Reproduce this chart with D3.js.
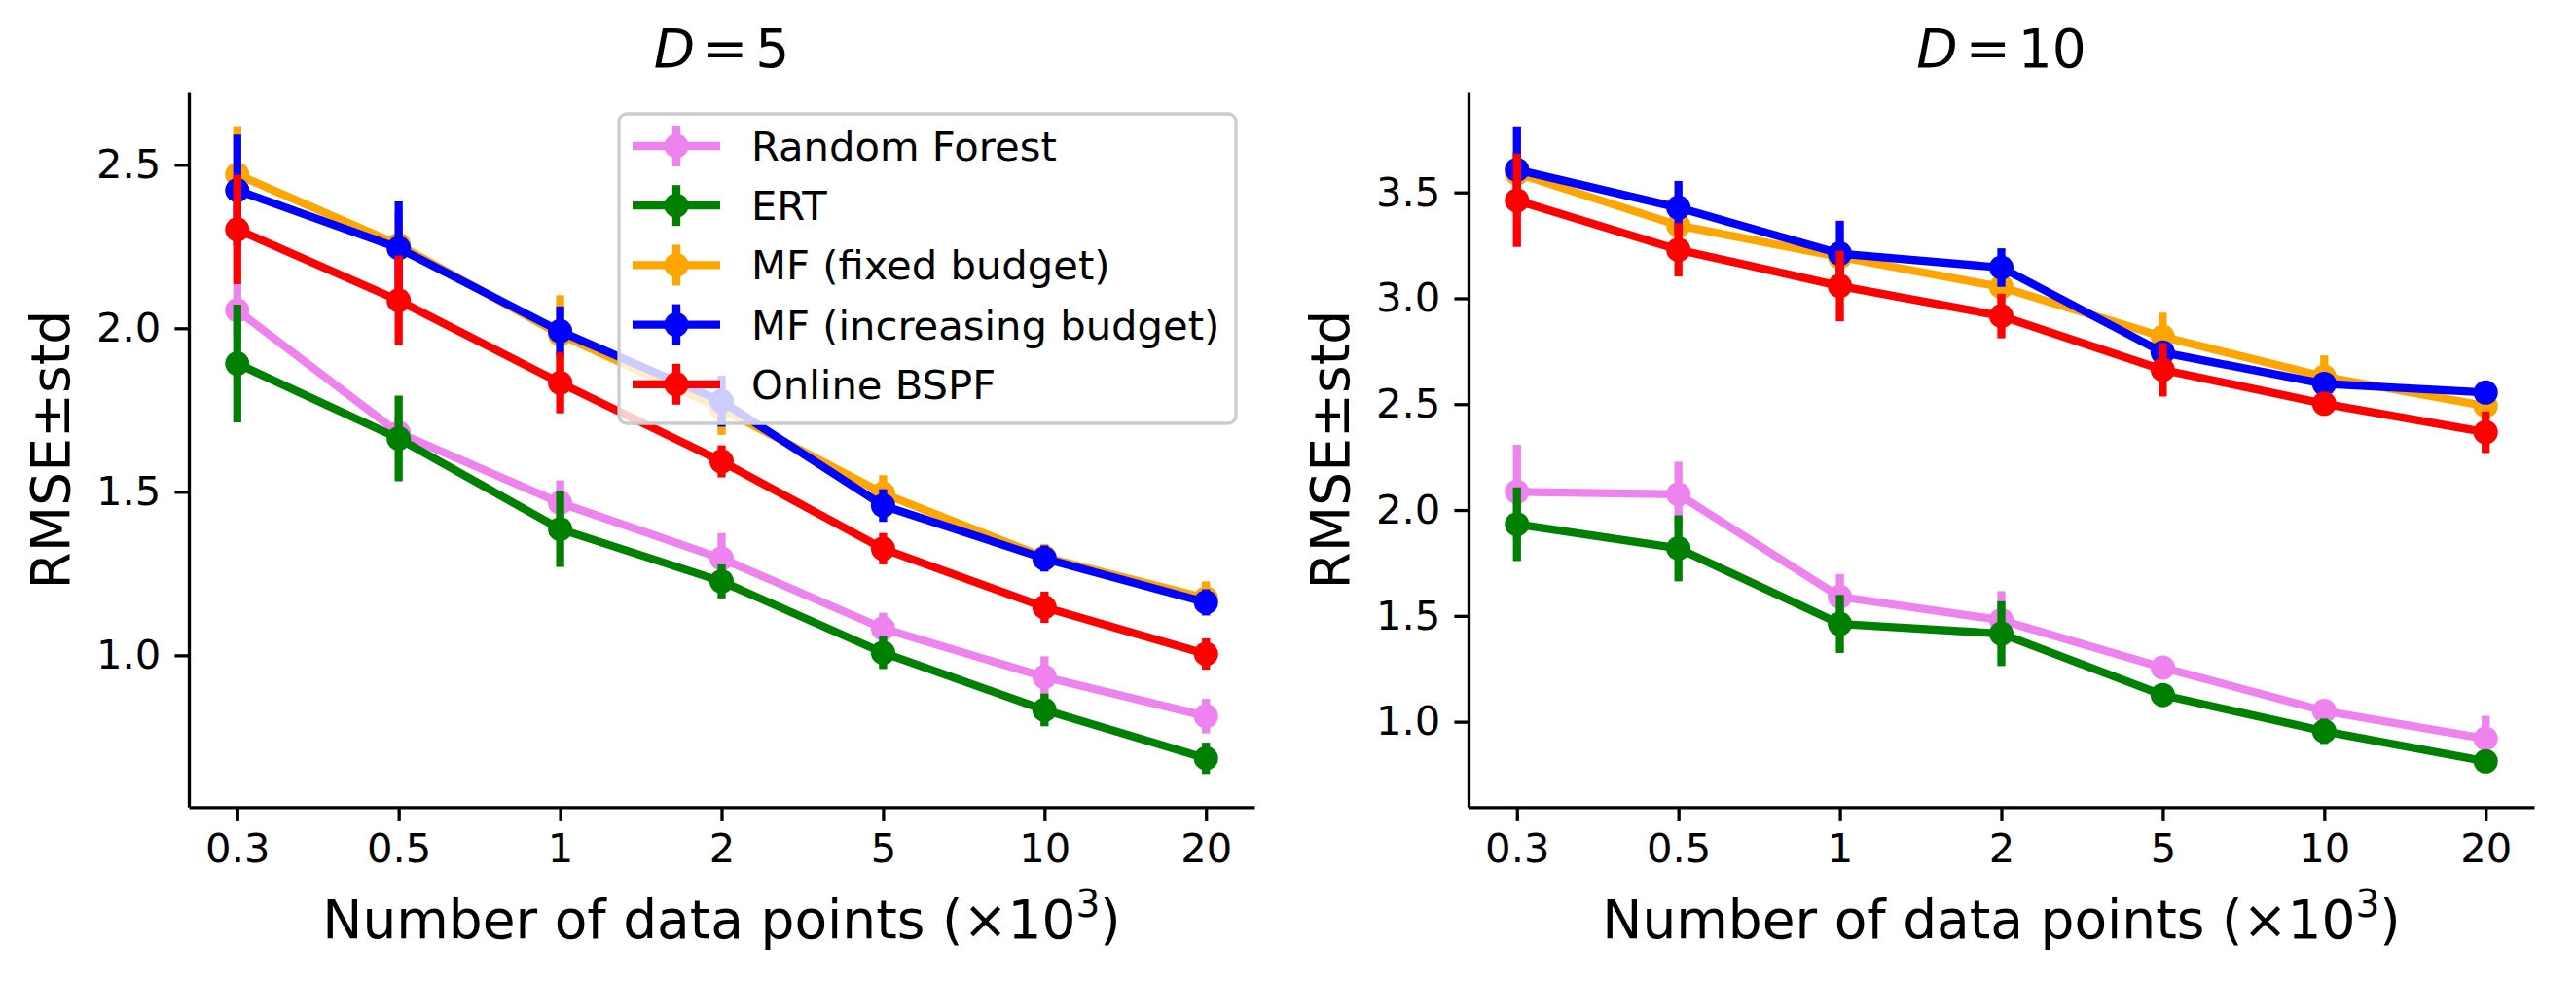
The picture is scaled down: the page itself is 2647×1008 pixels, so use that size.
<!DOCTYPE html>
<html>
<head>
<meta charset="utf-8">
<script src="https://cdn.jsdelivr.net/npm/d3@7"></script>
<style>
  body { margin: 0; background: #fff; }
  svg text { font-family: "DejaVu Sans", sans-serif; fill: #000; }
</style>
</head>
<body>
<script>
// x categories (thousands of data points)
const sizes = ['0.3', '0.5', '1', '2', '5', '10', '20'];
const methods = ['Random Forest', 'ERT', 'MF (fixed budget)', 'MF (increasing budget)', 'Online BSPF'];
const colors = ['violet', 'green', 'orange', 'blue', 'red'];

// D = 5
const rfD5 = [2.055, 1.680, 1.466, 1.296, 1.082, 0.934, 0.814];
const rfD5Std = [0.08, 0.05, 0.069, 0.078, 0.048, 0.063, 0.053];
const ertD5 = [1.892, 1.663, 1.386, 1.226, 1.008, 0.833, 0.685];
const ertD5Std = [0.18, 0.131, 0.116, 0.052, 0.05, 0.05, 0.048];
const mfFixedD5 = [2.470, 2.255, 1.981, 1.754, 1.495, 1.300, 1.174];
const mfFixedD5Std = [0.148, 0.1, 0.12, 0.08, 0.056, 0.04, 0.052];
const mfIncD5 = [2.422, 2.245, 1.991, 1.777, 1.458, 1.296, 1.162];
const mfIncD5Std = [0.17, 0.143, 0.076, 0.078, 0.05, 0.04, 0.04];
const bspfD5 = [2.302, 2.085, 1.833, 1.593, 1.326, 1.147, 1.004];
const bspfD5Std = [0.167, 0.137, 0.093, 0.049, 0.048, 0.048, 0.048];

// D = 10
const rfD10 = [2.086, 2.074, 1.590, 1.480, 1.256, 1.051, 0.920];
const rfD10Std = [0.222, 0.154, 0.108, 0.137, 0.04, 0.04, 0.108];
const ertD10 = [1.933, 1.819, 1.462, 1.416, 1.126, 0.955, 0.813];
const ertD10Std = [0.174, 0.156, 0.137, 0.153, 0.03, 0.06, 0.03];
const mfFixedD10 = [3.59, 3.344, 3.195, 3.053, 2.818, 2.630, 2.491];
const mfFixedD10Std = [0.1, 0.08, 0.08, 0.07, 0.114, 0.1, 0.06];
const mfIncD10 = [3.607, 3.428, 3.211, 3.145, 2.744, 2.596, 2.555];
const mfIncD10Std = [0.205, 0.126, 0.155, 0.091, 0.05, 0.04, 0.03];
const bspfD10 = [3.462, 3.229, 3.058, 2.916, 2.662, 2.502, 2.367];
const bspfD10Std = [0.22, 0.126, 0.167, 0.105, 0.126, 0.05, 0.098];

const ticksD5 = [1.0, 1.5, 2.0, 2.5];
const ticksD10 = [1.0, 1.5, 2.0, 2.5, 3.0, 3.5];

const W = 2647, H = 1008;
const TOP = 95, BOTTOM = 829.3;
const LW = 8.3, MR = 12.5;
const TICK_FS = 41.7, LABEL_FS = 55;

const svg = d3.select('body').append('svg')
  .attr('width', W)
  .attr('height', H);

const panels = [
  {
    title: '5', left: 194, right: 1289, ydom: [0.536, 2.721], ticks: ticksD5,
    means: [rfD5, ertD5, mfFixedD5, mfIncD5, bspfD5],
    stds: [rfD5Std, ertD5Std, mfFixedD5Std, mfIncD5Std, bspfD5Std],
    legend: true
  },
  {
    title: '10', left: 1509, right: 2604, ydom: [0.597, 3.972], ticks: ticksD10,
    means: [rfD10, ertD10, mfFixedD10, mfIncD10, bspfD10],
    stds: [rfD10Std, ertD10Std, mfFixedD10Std, mfIncD10Std, bspfD10Std],
    legend: false
  }
];

panels.forEach(p => {
  const x = d3.scaleLinear().domain([-0.3, sizes.length - 1 + 0.3]).range([p.left, p.right]);
  const y = d3.scaleLinear().domain(p.ydom).range([BOTTOM, TOP]);
  const g = svg.append('g');

  // axes
  const xAxis = d3.axisBottom(x)
    .tickValues(d3.range(sizes.length))
    .tickFormat(i => sizes[i])
    .tickSize(14.6).tickSizeOuter(0).tickPadding(12);
  const yAxis = d3.axisLeft(y)
    .tickValues(p.ticks)
    .tickFormat(d3.format('.1f'))
    .tickSize(14.6).tickSizeOuter(0).tickPadding(14);

  const gx = g.append('g').attr('transform', `translate(0,${BOTTOM})`).call(xAxis);
  const gy = g.append('g').attr('transform', `translate(${p.left},0)`).call(yAxis);
  [gx, gy].forEach(a => {
    a.selectAll('path, line').attr('stroke', '#000').attr('stroke-width', 3.3);
    a.selectAll('text').attr('font-size', TICK_FS).attr('font-family', 'DejaVu Sans');
  });

  // series
  p.means.forEach((vals, s) => {
    const sg = g.append('g');
    const std = p.stds[s];
    sg.selectAll('line.err').data(vals).enter().append('line')
      .attr('x1', (d, i) => x(i)).attr('x2', (d, i) => x(i))
      .attr('y1', (d, i) => y(d - std[i])).attr('y2', (d, i) => y(d + std[i]))
      .attr('stroke', colors[s]).attr('stroke-width', LW);
    sg.append('path')
      .datum(vals)
      .attr('d', d3.line().x((d, i) => x(i)).y(d => y(d)))
      .attr('fill', 'none')
      .attr('stroke', colors[s])
      .attr('stroke-width', LW)
      .attr('stroke-linejoin', 'round');
    sg.selectAll('circle').data(vals).enter().append('circle')
      .attr('cx', (d, i) => x(i)).attr('cy', d => y(d))
      .attr('r', MR).attr('fill', colors[s]);
  });

  const cx = (p.left + p.right) / 2;
  // title (mathtext-like spacing)
  const t = svg.append('text')
    .attr('x', cx).attr('y', 69)
    .attr('text-anchor', 'middle')
    .attr('font-size', LABEL_FS);
  t.append('tspan').attr('font-style', 'italic').text('D');
  t.append('tspan').attr('dx', 8).text('=');
  t.append('tspan').attr('dx', 8).text(p.title);

  // x label
  const xl = svg.append('text')
    .attr('x', cx).attr('y', 964)
    .attr('text-anchor', 'middle')
    .attr('font-size', LABEL_FS);
  xl.append('tspan').text('Number of data points (×10');
  xl.append('tspan').attr('dy', -22).attr('font-size', 39).text('3');
  xl.append('tspan').attr('dy', 22).text(')');

  // y label
  svg.append('text')
    .attr('transform', `translate(${p.left - 123},${(TOP + BOTTOM) / 2}) rotate(-90)`)
    .attr('text-anchor', 'middle')
    .attr('font-size', LABEL_FS)
    .text('RMSE±std');

  if (p.legend) {
    const lg = svg.append('g');
    lg.append('rect')
      .attr('x', 636).attr('y', 117).attr('width', 634).attr('height', 318)
      .attr('rx', 8).attr('fill', 'white').attr('fill-opacity', 0.8)
      .attr('stroke', '#cccccc').attr('stroke-width', 3.3);
    methods.forEach((m, s) => {
      const ly = 150 + s * 61.2;
      lg.append('line').attr('x1', 650).attr('x2', 740).attr('y1', ly).attr('y2', ly)
        .attr('stroke', colors[s]).attr('stroke-width', LW);
      lg.append('line').attr('x1', 695).attr('x2', 695).attr('y1', ly - 21).attr('y2', ly + 21)
        .attr('stroke', colors[s]).attr('stroke-width', LW);
      lg.append('circle').attr('cx', 695).attr('cy', ly).attr('r', MR).attr('fill', colors[s]);
      lg.append('text').attr('x', 772).attr('y', ly + 15)
        .attr('font-size', TICK_FS).text(m);
    });
  }
});
</script>
</body>
</html>
